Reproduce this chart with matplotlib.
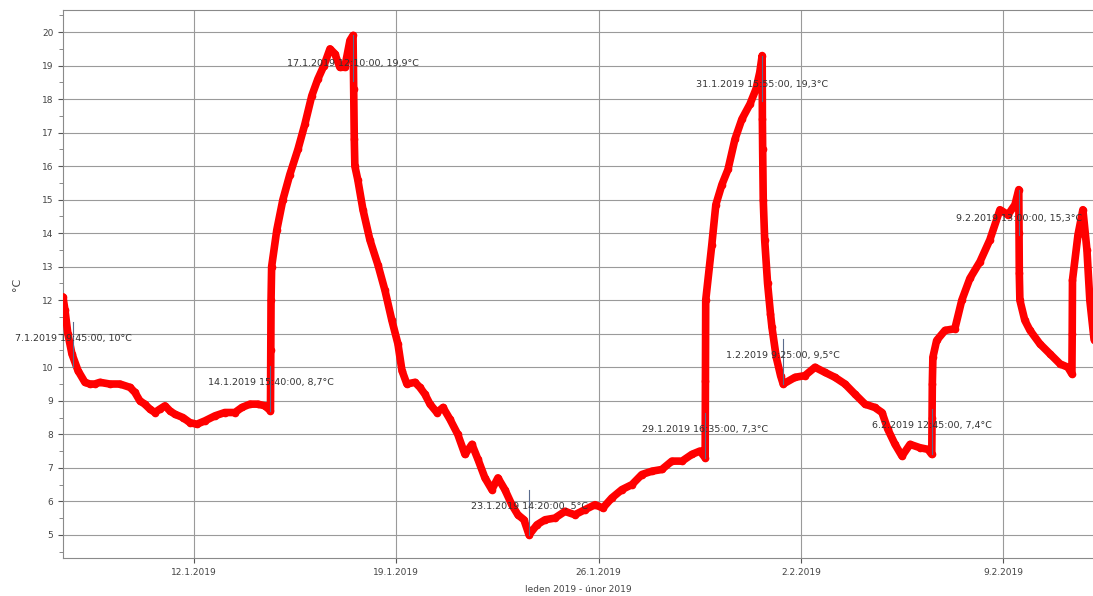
import numpy as np
import matplotlib
matplotlib.use('Agg')
import matplotlib.pyplot as plt
import matplotlib.dates as mdates

# Data: day of January 2019 (values > 31 are in February) and temperature
days = [7.47, 7.54, 7.64, 7.78, 7.99, 8.23, 8.40, 8.57, 8.75, 9.09, 9.44, 9.79,
        9.96, 10.13, 10.30, 10.48, 10.65, 10.82, 11.00, 11.17, 11.34, 11.62, 11.86,
        12.10, 12.38, 12.73, 13.07, 13.42, 13.66, 13.94, 14.21, 14.46, 14.65,
        14.66, 14.67, 14.69, 14.87, 15.08, 15.32, 15.60, 15.84, 16.08, 16.29,
        16.50, 16.71, 16.88, 17.05, 17.22, 17.40, 17.507,
        17.53, 17.55, 17.57, 17.67, 17.85, 18.09, 18.37, 18.61, 18.85, 19.06,
        19.20, 19.37, 19.65, 19.82, 19.99, 20.17, 20.41, 20.62, 20.86, 21.13,
        21.38, 21.62, 21.83, 22.07, 22.31, 22.52, 22.76, 23.00, 23.21, 23.42,
        23.597, 23.87, 24.15, 24.49, 24.84, 25.18, 25.53, 25.88, 26.15, 26.46,
        26.81, 27.16, 27.50, 27.85, 28.19, 28.54, 28.89, 29.23, 29.51, 29.69,
        29.70, 29.71, 29.92, 30.06, 30.27, 30.48, 30.72, 30.96, 31.24, 31.45,
        31.58, 31.663,
        31.67, 31.68, 31.70, 31.75, 31.85, 31.95, 32.0, 32.15, 32.3, 32.39,
        32.80, 33.14, 33.49, 33.83, 34.18, 34.53, 34.87, 35.22, 35.56, 35.81,
        36.01, 36.26, 36.50, 36.78, 37.12, 37.40, 37.531,
        37.54, 37.55, 37.57, 37.70, 37.99, 38.33, 38.57, 38.85, 39.20, 39.54,
        39.89, 40.17, 40.41, 40.542,
        40.55, 40.56, 40.58, 40.75, 40.93, 41.27, 41.62, 41.97, 42.24, 42.38,
        42.39, 42.40, 42.59, 42.76, 42.90, 43.0, 43.15]
temps = [12.1, 11.7, 11.0, 10.4, 9.9, 9.55, 9.5, 9.5, 9.55, 9.5, 9.5, 9.4,
         9.25, 9.0, 8.9, 8.75, 8.65, 8.75, 8.85, 8.7, 8.6, 8.5, 8.35,
         8.3, 8.4, 8.55, 8.65, 8.65, 8.8, 8.9, 8.9, 8.85, 8.7,
         10.5, 12.0, 13.0, 14.1, 15.0, 15.75, 16.5, 17.25, 18.1, 18.6,
         19.0, 19.5, 19.35, 18.95, 18.95, 19.75, 19.9,
         18.3, 16.8, 16.0, 15.6, 14.7, 13.8, 13.05, 12.3, 11.4, 10.7,
         9.9, 9.5, 9.55, 9.4, 9.2, 8.9, 8.65, 8.8, 8.45, 8.0,
         7.4, 7.7, 7.25, 6.7, 6.35, 6.7, 6.35, 5.9, 5.6, 5.45,
         5.0, 5.3, 5.45, 5.5, 5.7, 5.6, 5.75, 5.9, 5.8, 6.1,
         6.35, 6.5, 6.8, 6.9, 6.95, 7.2, 7.2, 7.4, 7.5, 7.3,
         9.6, 12.0, 13.65, 14.85, 15.45, 15.9, 16.8, 17.4, 17.85, 18.3,
         18.8, 19.3,
         17.4, 16.5, 15.0, 13.8, 12.5, 11.6, 11.2, 10.3, 9.75, 9.5,
         9.7, 9.75, 10.0, 9.85, 9.7, 9.5, 9.2, 8.9, 8.8, 8.65,
         8.15, 7.7, 7.35, 7.7, 7.6, 7.55, 7.4,
         8.5, 9.5, 10.3, 10.8, 11.1, 11.15, 12.0, 12.65, 13.15, 13.8,
         14.7, 14.55, 14.85, 15.3,
         14.0, 12.8, 12.0, 11.4, 11.1, 10.7, 10.4, 10.1, 10.0, 9.8,
         11.0, 12.6, 13.95, 14.7, 13.5, 12.0, 10.8]

# Annotated extremes: text, day of January, value, label below (True) or above
ann_texts = ['7.1.2019 19:45:00, 10°C', '14.1.2019 15:40:00, 8,7°C',
             '17.1.2019 12:10:00, 19,9°C', '23.1.2019 14:20:00, 5°C',
             '29.1.2019 16:35:00, 7,3°C', '31.1.2019 15:55:00, 19,3°C',
             '1.2.2019 9:25:00, 9,5°C', '6.2.2019 12:45:00, 7,4°C',
             '9.2.2019 13:00:00, 15,3°C']
ann_days = [7.82, 14.65, 17.507, 23.597, 29.69, 31.663, 32.39, 37.531, 40.542]
ann_temps = [10.0, 8.7, 19.9, 5.0, 7.3, 19.3, 9.5, 7.4, 15.3]
ann_below = [False, False, True, False, False, True, False, False, True]

tick_days = [12, 19, 26, 33, 40]
tick_labels = ['12.1.2019', '19.1.2019', '26.1.2019', '2.2.2019', '9.2.2019']
y_ticks = list(range(5, 21))
# the 11 label is hidden behind the 7.1. annotation in the original
y_labels = ['' if v == 11 else str(v) for v in y_ticks]

base = np.datetime64('2019-01-01T00:00')


def to_date(d):
    return mdates.date2num(base + np.timedelta64(int(round((d - 1) * 1440)), 'm'))


x = [to_date(d) for d in days]

fig = plt.figure(figsize=(10.93, 5.96), dpi=100)
ax = fig.add_axes([0.0576, 0.0638, 0.9424, 0.9195])

ax.plot(x, temps, color='#ff0000', lw=5.5, marker='o', ms=4.5,
        solid_capstyle='round', solid_joinstyle='round', zorder=3)

for txt, d, t, below in zip(ann_texts, ann_days, ann_temps, ann_below):
    xd = to_date(d)
    ty = t - 0.85 if below else t + 0.85
    y_end = ty - 0.5 if below else ty + 0.5
    ax.plot([xd, xd], [t, y_end], color='#5a6b8c', lw=0.8, zorder=4)
    ax.text(xd, ty, txt, ha='center', va='center', fontsize=6.8,
            color='#333333', zorder=5, clip_on=False)

ax.set_xlim(to_date(7.47), to_date(43.11))
ax.set_ylim(4.31, 20.66)

ax.set_xticks([to_date(d) for d in tick_days])
ax.set_xticklabels(tick_labels)
ax.set_yticks(y_ticks)
ax.set_yticklabels(y_labels)
ax.set_yticks(np.arange(4.5, 20.6, 0.5), minor=True)

ax.grid(True, which='major', color='#9a9a9a', lw=0.8)
ax.tick_params(labelsize=6.5, colors='#555555', labelcolor='#444444')
ax.tick_params(axis='y', which='minor', length=3, color='#777777')
for s in ['left', 'bottom', 'top']:
    ax.spines[s].set_color('#8a8a8a')
ax.spines['right'].set_visible(False)

ax.set_xlabel('leden 2019 - únor 2019', fontsize=6.5, color='#444444', labelpad=6)
ax.set_ylabel('°C', fontsize=8, color='#444444', labelpad=14)

fig.savefig('out.png', dpi=100)
